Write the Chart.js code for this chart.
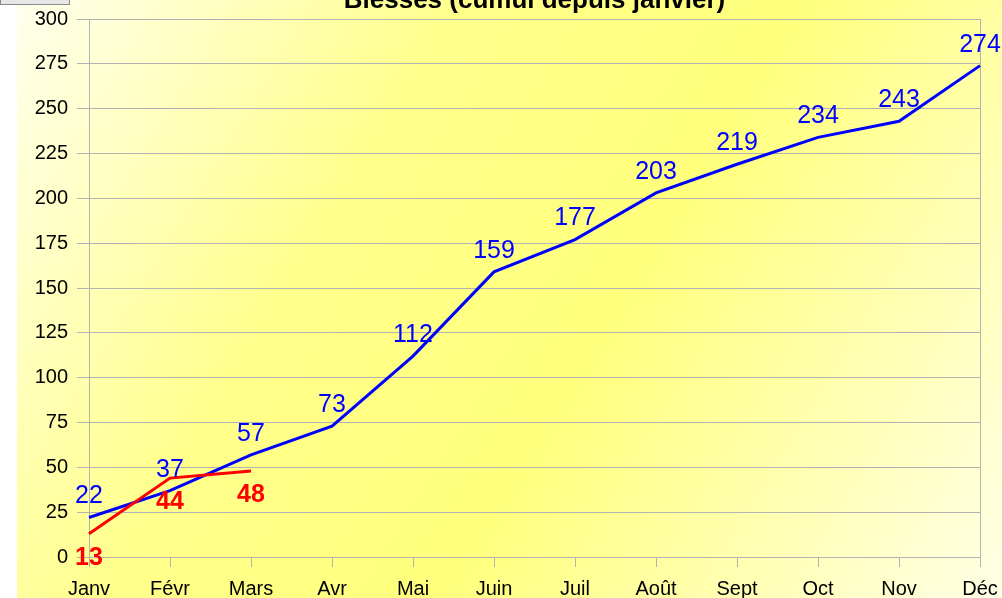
<!DOCTYPE html>
<html>
<head>
<meta charset="utf-8">
<script src="https://cdn.jsdelivr.net/npm/chart.js@4/dist/chart.umd.min.js"></script>
<style>
body{margin:0;background:#fff;overflow:hidden}
#wrap{position:absolute;left:0;top:0;width:1002px;height:598px}
#box{position:absolute;left:0;top:-1px;width:68px;height:4px;border:1px solid #8a8a8a;background:#e6e6e6}
</style>
</head>
<body>
<div id="wrap"><canvas id="graph" width="1002" height="598"></canvas></div>
<div id="box"></div>
<script>

const mois=['Janv','Févr','Mars','Avr','Mai','Juin','Juil','Août','Sept','Oct','Nov','Déc'];
const cumulPrec=[22,37,57,73,112,159,177,203,219,234,243,274];
const cumulAnnee=[13,44,48];
const yMin=0,yMax=300,yStep=25;
const titre='Blessés (cumul depuis janvier)';

const fond={
id:'fond',
beforeDraw(chart){
const c=chart.ctx;
const g=c.createLinearGradient(17,0,1002,598);
g.addColorStop(0,'#ffffee');
g.addColorStop(0.33,'#ffff8c');
g.addColorStop(0.58,'#ffff7c');
g.addColorStop(1,'#ffffe6');
c.save();
c.fillStyle=g;
c.fillRect(17,0,chart.width-17,chart.height);
c.fillStyle='#000';
c.font='bold 26px "Liberation Sans"';
c.textAlign='center';
c.textBaseline='alphabetic';
const a=chart.chartArea;
c.fillText(titre,(a.left+a.right)/2,8);
c.restore();
}
};

const bord={
id:'bord',
beforeDatasetsDraw(chart){
const c=chart.ctx,a=chart.chartArea;
c.save();
c.strokeStyle='#b3b3b3';
c.lineWidth=1;
c.beginPath();
c.moveTo(a.right+0.5,a.top);
c.lineTo(a.right+0.5,a.bottom);
c.stroke();
c.restore();
}
};

// valeurs au-dessus (bleu) / en dessous (rouge)
const etiquettes={
id:'etiquettes',
afterDatasetsDraw(chart){
const c=chart.ctx;
c.save();
c.textAlign='center';
c.textBaseline='middle';
chart.data.datasets.forEach((ds,i)=>{
const meta=chart.getDatasetMeta(i);
meta.data.forEach((pt,j)=>{
c.fillStyle=ds.borderColor;
c.font=ds.lblBold?'bold 25px "Liberation Sans"':'25px "Liberation Sans"';
c.fillText(ds.data[j],pt.x,pt.y+ds.lblDy);
});
});
c.restore();
}
};

new Chart(document.getElementById('graph'),{
type:'line',
data:{
labels:mois,
datasets:[
{
label:'Année',
data:cumulAnnee,
borderColor:'#ff0000',
borderWidth:3,
pointRadius:0,
tension:0,
lblBold:true,
lblDy:24
},
{
label:'Année précédente',
data:cumulPrec,
borderColor:'#0000ff',
borderWidth:3,
pointRadius:0,
tension:0,
lblBold:false,
lblDy:-21
}
]
},
options:{
responsive:false,
animation:false,
layout:{padding:{top:19,right:22,left:0,bottom:0}},
plugins:{legend:{display:false},tooltip:{enabled:false},title:{display:false}},
scales:{
x:{
offset:false,
afterFit(s){s.height=41;s.paddingLeft=0;s.paddingRight=0;},
grid:{drawOnChartArea:false,color:'#b3b3b3',tickLength:10},
border:{color:'#b3b3b3'},
ticks:{color:'#000',padding:10,maxRotation:0,autoSkip:false,font:{family:'Liberation Sans',size:20}}
},
y:{
min:yMin,max:yMax,
afterFit(s){s.width=89;s.paddingTop=0;s.paddingBottom=0;},
grid:{color:'#b3b3b3',tickLength:12},
border:{color:'#b3b3b3'},
ticks:{stepSize:yStep,color:'#000',padding:9,font:{family:'Liberation Sans',size:20}}
}
}
},
plugins:[fond,bord,etiquettes]
});

</script>
</body>
</html>
